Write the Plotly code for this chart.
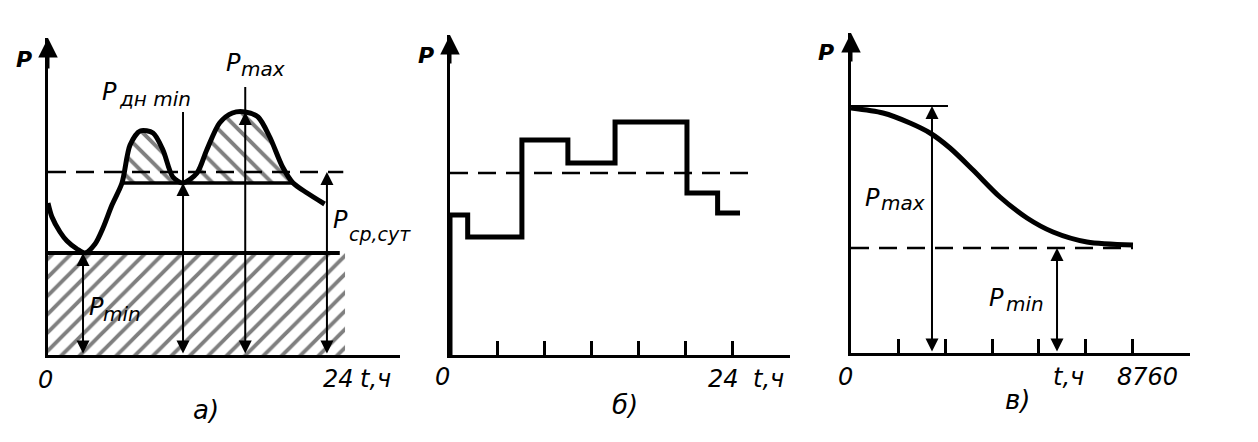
import plotly.graph_objects as go

W, H = 1258, 442

# ---------- Panel a: daily load curve ----------
t_a = [0, 0.34, 1.03, 1.63, 2.49, 3.17, 4.03, 4.71, 5.48, 6.34, 7.03, 7.9, 9.0, 9.85, 10.7,
       11.57, 12.77, 13.6, 14.7, 15.8, 16.9, 18.0, 19.0, 20.1, 21.0, 22.2, 23.7]
P_a = [15.2, 13.8, 12.3, 11.4, 10.6, 10.2, 11.1, 12.7, 15.0, 17.2, 21.0, 22.4, 22.2, 20.5, 17.8,
       17.2, 18.2, 20.5, 23.2, 24.2, 24.3, 23.8, 21.8, 18.8, 17.2, 16.2, 15.1]
P_min_a = 10.2
P_dn_min_a = 17.2
P_avg_a = 18.3
t_min_a = 3.0
t_dn_min_a = 11.57
t_max_a = 16.9
P_max_a = 24.3
t_avg_arrow_a = 23.9
t_end_rect_a = 25.45

# ---------- Panel b: stepped load curve ----------
t_b = [0, 1.5, 6.1, 10.0, 14.0, 20.1, 22.7, 24.6]
P_b = [14.0, 11.8, 21.5, 19.2, 23.3, 16.2, 14.2]
P_avg_b = 18.2
ticks_b = [4, 8, 12, 16, 20, 24]

# ---------- Panel c: annual duration curve ----------
t_c = [0, 994, 1833, 2454, 3075, 3790, 4628, 5467, 6275, 7331, 8760]
P_c = [24.5, 24.0, 23.0, 22.0, 20.5, 18.3, 15.6, 13.5, 12.1, 11.1, 10.8]
P_max_c = 24.7
P_min_c = 10.5
t_pmax_arrow_c = 2516
t_pmin_arrow_c = 6400
ticks_c = [1460, 2920, 4380, 5840, 7300, 8760]

FONT = "DejaVu Sans"


def px(x):
    return x / W


def py(y):
    return 1 - y / H


fig = go.Figure()

# Panel a traces
fig.add_trace(go.Scatter(
    x=[0, 0, t_end_rect_a, t_end_rect_a], y=[0, P_min_a, P_min_a, 0],
    fill="toself", mode="none", fillcolor="rgba(0,0,0,0)",
    fillpattern=dict(shape="/", size=13, solidity=0.3, fgcolor="black", bgcolor="rgba(0,0,0,0)"),
    xaxis="x", yaxis="y", hoverinfo="skip"))
i0 = t_a.index(6.34)
i1 = t_a.index(21.0)
fig.add_trace(go.Scatter(
    x=t_a[i0:i1 + 1], y=P_a[i0:i1 + 1], fill="toself", mode="lines",
    line=dict(width=0, shape="spline", smoothing=0.8), fillcolor="rgba(0,0,0,0)",
    fillpattern=dict(shape="\\", size=14, solidity=0.28, fgcolor="black", bgcolor="rgba(0,0,0,0)"),
    xaxis="x", yaxis="y", hoverinfo="skip"))
fig.add_trace(go.Scatter(x=[0, 25.0], y=[P_min_a, P_min_a], mode="lines",
                         line=dict(color="black", width=4), xaxis="x", yaxis="y"))
fig.add_trace(go.Scatter(x=[t_a[i0], t_a[i1]], y=[P_dn_min_a, P_dn_min_a], mode="lines",
                         line=dict(color="black", width=3.5), xaxis="x", yaxis="y"))
fig.add_trace(go.Scatter(x=[0, 25.3], y=[P_avg_a, P_avg_a], mode="lines",
                         line=dict(color="black", width=2.5, dash="18px,10px"), xaxis="x", yaxis="y"))
fig.add_trace(go.Scatter(x=t_a, y=P_a, mode="lines",
                         line=dict(color="black", width=5, shape="spline", smoothing=0.8),
                         xaxis="x", yaxis="y"))

# Panel b traces
fig.add_trace(go.Scatter(x=[0, 25.9], y=[P_avg_b, P_avg_b], mode="lines",
                         line=dict(color="black", width=2.5, dash="18px,10px"), xaxis="x2", yaxis="y2"))
fig.add_trace(go.Scatter(x=[0] + t_b, y=[0] + P_b + [P_b[-1]], mode="lines",
                         line=dict(color="black", width=5, shape="hv"), xaxis="x2", yaxis="y2"))

# Panel c traces
fig.add_trace(go.Scatter(x=[0, t_c[-1]], y=[P_min_c, P_min_c], mode="lines",
                         line=dict(color="black", width=2.5, dash="18px,10px"), xaxis="x3", yaxis="y3"))
fig.add_trace(go.Scatter(x=[0, 3013], y=[P_max_c, P_max_c], mode="lines",
                         line=dict(color="black", width=2), xaxis="x3", yaxis="y3"))
fig.add_trace(go.Scatter(x=t_c, y=P_c, mode="lines",
                         line=dict(color="black", width=5, shape="spline", smoothing=0.8),
                         xaxis="x3", yaxis="y3"))

# Axes
common_x = dict(showgrid=False, zeroline=False, showline=True, linecolor="black", linewidth=3,
                showticklabels=False)
common_y = dict(showgrid=False, zeroline=False, showline=True, linecolor="black", linewidth=3,
                showticklabels=False, ticks="")
fig.update_layout(
    width=W, height=H, margin=dict(l=0, r=0, t=0, b=0),
    paper_bgcolor="white", plot_bgcolor="white", showlegend=False,
    xaxis=dict(domain=[px(48), px(400)], range=[0, 30.16], anchor="y", ticks="", **common_x),
    yaxis=dict(domain=[py(355), py(38)], range=[0, 31.7], anchor="x", **common_y),
    xaxis2=dict(domain=[px(450), px(790)], range=[0, 28.84], anchor="y2", ticks="inside",
                tickvals=ticks_b, ticklen=14, tickwidth=2.5, tickcolor="black", **common_x),
    yaxis2=dict(domain=[py(355), py(35)], range=[0, 32.0], anchor="x2", **common_y),
    xaxis3=dict(domain=[px(851), px(1190)], range=[0, 10531], anchor="y3", ticks="inside",
                tickvals=ticks_c, ticklen=14, tickwidth=2.5, tickcolor="black", **common_x),
    yaxis3=dict(domain=[py(353), py(33)], range=[0, 32.0], anchor="x3", **common_y),
)

anns = []


def arrow(xr, yr, x, y0, y1, both=True, width=2):
    anns.append(dict(xref=xr, yref=yr, axref=xr, ayref=yr, x=x, y=y1, ax=x, ay=y0,
                     text="", showarrow=True, arrowhead=2, startarrowhead=2,
                     arrowside="end+start" if both else "end",
                     arrowsize=1.3, startarrowsize=1.3, arrowwidth=width, arrowcolor="black"))


# axis arrows
arrow("x", "y", 0, 28.5, 31.7, both=False, width=3)
arrow("x2", "y2", 0, 29.0, 32.0, both=False, width=3)
arrow("x3", "y3", 0, 29.0, 32.0, both=False, width=3)

# panel a arrows
arrow("x", "y", t_min_a, 0, P_min_a)
arrow("x", "y", t_dn_min_a, 0, P_dn_min_a)
arrow("x", "y", t_max_a, 0, P_max_a)
arrow("x", "y", t_avg_arrow_a, 0, P_avg_a)
fig.add_shape(type="line", xref="x", yref="y", x0=t_dn_min_a, x1=t_dn_min_a, y0=P_dn_min_a, y1=24.3,
              line=dict(color="black", width=2))
fig.add_shape(type="line", xref="x", yref="y", x0=t_max_a, x1=t_max_a, y0=P_max_a, y1=26.8,
              line=dict(color="black", width=2))

# panel c arrows
arrow("x3", "y3", t_pmax_arrow_c, 0, P_max_c)
arrow("x3", "y3", t_pmin_arrow_c, 0, P_min_c)


def label(x, y, text, size=24):
    anns.append(dict(xref="paper", yref="paper", x=px(x), y=py(y), text="<i>" + text + "</i>",
                     showarrow=False, xanchor="center", yanchor="middle",
                     font=dict(family=FONT, size=size, color="black")))


# Panel a labels
label(24, 60, "<b>P</b>", 22)
label(109, 92, "P", 24)
label(155, 99, "дн min", 20)
label(233, 63, "P", 24)
label(263, 69, "max", 20)
label(340, 220, "P", 24)
label(380, 234, "ср,сут", 19)
label(96, 307, "P", 24)
label(122, 314, "min", 20)
label(45, 380, "0", 24)
label(338, 379, "24", 24)
label(375, 379, "t,ч", 24)
label(206, 410, "а)", 26)

# Panel b labels
label(426, 55, "<b>P</b>", 22)
label(442, 377, "0", 24)
label(723, 379, "24", 24)
label(768, 379, "t,ч", 24)
label(625, 405, "б)", 26)

# Panel c labels
label(826, 52, "<b>P</b>", 22)
label(872, 198, "P", 24)
label(903, 203, "max", 20)
label(997, 298, "P", 24)
label(1025, 304, "min", 20)
label(845, 377, "0", 24)
label(1068, 377, "t,ч", 24)
label(1147, 377, "8760", 24)
label(1017, 400, "в)", 26)

fig.update_layout(annotations=anns)
fig.write_html("out.html", config={"displayModeBar": False},
               post_script="document.body.style.margin='0';")
